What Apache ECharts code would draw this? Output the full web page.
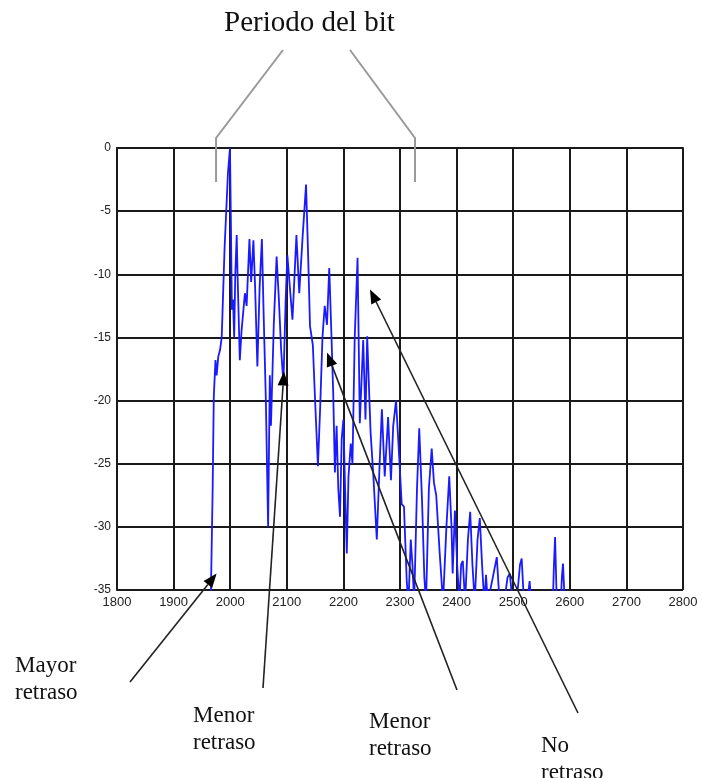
<!DOCTYPE html>
<html>
<head>
<meta charset="utf-8">
<script src="https://cdn.jsdelivr.net/npm/echarts@6/dist/echarts.min.js"></script>
<style>
  html, body { margin: 0; padding: 0; background: #fff; }
  #main { width: 702px; height: 778px; }
</style>
</head>
<body>
<div id="main"></div>
<script>
// tiempo (muestras) y potencia (dB)
var tiempo = [
  1960, 1966, 1969, 1971, 1974, 1976, 1979, 1982, 1985, 1990, 1996, 1999.6, 2001, 2003, 2005, 2007, 2009,
  2011.5, 2013, 2017, 2020, 2026, 2029, 2034, 2037, 2041, 2044, 2048, 2052, 2056, 2059, 2063, 2067, 2070,
  2072, 2077, 2082, 2086, 2090, 2094, 2098, 2101, 2105, 2110, 2117, 2122, 2128, 2134, 2138, 2141, 2146,
  2150, 2155, 2159, 2163, 2167, 2171, 2175, 2179, 2182, 2185, 2188, 2191, 2194, 2197, 2200, 2203, 2206,
  2209, 2213, 2216, 2220, 2225, 2229, 2235, 2239, 2242, 2248, 2253, 2259, 2264, 2268, 2273, 2279, 2284,
  2288, 2293, 2298, 2303, 2307, 2312, 2315, 2319, 2322, 2325, 2330, 2334, 2339, 2343, 2346, 2351, 2356,
  2360, 2364, 2370, 2376, 2382, 2387, 2391, 2393, 2397, 2401, 2405, 2408, 2411, 2415, 2420, 2424, 2428,
  2432, 2437, 2441, 2445, 2449, 2452, 2455, 2464, 2471, 2476, 2484, 2490, 2494, 2499, 2506, 2512, 2515,
  2519, 2525, 2529, 2532, 2570, 2572, 2574, 2577, 2584, 2586, 2588, 2591, 2600
]
var potencia = [
  -38, -35, -27, -19.7, -16.8, -18, -16.5, -16, -15, -8, -2, 0, -5, -12.8, -12, -15, -10,
  -6.9, -10, -16.8, -14.5, -11.5, -12.5, -7.2, -10.6, -7.3, -11, -17.3, -11, -7.2, -13, -20, -30, -18,
  -22, -14, -8.6, -12, -16, -18.6, -12, -8.5, -10.8, -13.6, -6.9, -11.5, -7, -2.9, -9, -14.1, -15.6,
  -20, -25.2, -20.5, -15, -12.5, -14, -9.5, -15, -19.4, -25.7, -22, -27, -29.2, -23, -21.5, -27, -32.1,
  -26, -23.4, -25, -15, -8.7, -21.8, -15.2, -21.5, -14.9, -22.5, -26, -31, -25, -20.7, -26, -21.3, -26.3,
  -22, -20, -24, -28.2, -28.4, -34.4, -36, -31, -33, -36, -27, -22.2, -28, -34, -36, -27, -23.8,
  -26.5, -27.5, -32, -36, -30, -26, -30, -33.7, -28.7, -33, -36, -33, -32.7, -36, -31, -28.8, -33,
  -36, -31, -29.3, -33, -36, -33.8, -36, -34, -32.4, -36, -36, -34, -33.7, -36, -36, -33, -32.5,
  -36, -36, -34.3, -36, -36, -33, -30.8, -36, -36, -34, -32.9, -36, -38
]

// flechas: punta en coordenadas de datos, cola en pixeles
var flechas = [
  { punta: [1976, -33.7], cola: [130, 682] },
  { punta: [2095, -17.7], cola: [263, 688] },
  { punta: [2171, -16.2], cola: [457, 690] },
  { punta: [2247, -11.2], cola: [578, 713] }
]
var etiquetas = [
  { x: 15, y: 706, text: 'Mayor\nretraso' },
  { x: 193, y: 756, text: 'Menor\nretraso' },
  { x: 369, y: 762, text: 'Menor\nretraso' },
  { x: 541, y: 786, text: 'No\nretraso' }
]
var periodoBit = [1975, 2326.5]

var datos = tiempo.map(function(t, i) { return [t, potencia[i]] })

var myChart = echarts.init(document.getElementById('main'))

var option = {
  animation: false,
  grid: { left: 117, right: 19, top: 148, bottom: 188 },
  xAxis: {
    type: 'value',
    min: 1800,
    max: 2800,
    interval: 100,
    axisLine: { lineStyle: { color: '#1a1a1a', width: 2 } },
    axisTick: { show: false },
    axisLabel: {
      color: '#222', fontFamily: 'Liberation Sans', fontSize: 13, margin: 6,
      formatter: function(v) { return String(v) }
    },
    splitLine: { show: true, lineStyle: { color: '#1a1a1a', width: 2 } }
  },
  yAxis: {
    type: 'value',
    min: -35,
    max: 0,
    interval: 5,
    axisLine: { show: true, lineStyle: { color: '#1a1a1a', width: 2 } },
    axisTick: { show: false },
    axisLabel: {
      color: '#222', fontFamily: 'Liberation Sans', fontSize: 12, margin: 6,
      formatter: function(v) { return String(v) }
    },
    splitLine: { show: true, lineStyle: { color: '#1a1a1a', width: 2 } }
  },
  series: [
    {
      type: 'line',
      data: datos,
      showSymbol: false,
      clip: true,
      lineStyle: { color: '#1a1aff', width: 1.8 },
      z: 3
    }
  ]
}

myChart.setOption(option)

// anotaciones
function dibujarAnotaciones() {
  var elems = []
  var negro = '#222'

  elems.push({
    type: 'text',
    left: 224,
    top: 9,
    style: { text: 'Periodo del bit', fontFamily: 'Liberation Serif', fontSize: 29, fill: '#111' }
  })

  // corchetes grises del periodo
  var izq = myChart.convertToPixel({ gridIndex: 0 }, [periodoBit[0], 0])
  var der = myChart.convertToPixel({ gridIndex: 0 }, [periodoBit[1], 0])
  elems.push({
    type: 'polyline',
    shape: { points: [[283, 50], [izq[0], 138], [izq[0], 182]] },
    style: { stroke: '#999', lineWidth: 2, fill: null },
    z: 10
  })
  elems.push({
    type: 'polyline',
    shape: { points: [[350, 50], [der[0], 138], [der[0], 182]] },
    style: { stroke: '#999', lineWidth: 2, fill: null },
    z: 10
  })

  flechas.forEach(function(f) {
    var p = myChart.convertToPixel({ gridIndex: 0 }, f.punta)
    var dx = p[0] - f.cola[0]
    var dy = p[1] - f.cola[1]
    var len = Math.sqrt(dx * dx + dy * dy)
    var ux = dx / len, uy = dy / len
    var L = 14, W = 11
    var bx = p[0] - ux * L, by = p[1] - uy * L
    elems.push({
      type: 'line',
      shape: { x1: f.cola[0], y1: f.cola[1], x2: bx, y2: by },
      style: { stroke: negro, lineWidth: 1.6 },
      z: 10
    })
    elems.push({
      type: 'polygon',
      shape: { points: [p, [bx - uy * W / 2, by + ux * W / 2], [bx + uy * W / 2, by - ux * W / 2]] },
      style: { fill: '#000' },
      z: 10
    })
  })

  etiquetas.forEach(function(e) {
    elems.push({
      type: 'text',
      x: e.x,
      y: e.y,
      style: {
        text: e.text,
        fontFamily: 'Liberation Serif',
        fontSize: 23,
        lineHeight: 27,
        fill: '#111',
        verticalAlign: 'bottom'
      },
      z: 10
    })
  })

  myChart.setOption({ graphic: elems })
}

dibujarAnotaciones()
</script>
</body>
</html>
